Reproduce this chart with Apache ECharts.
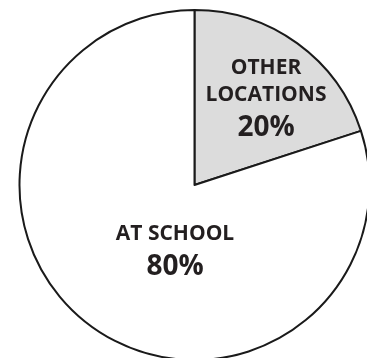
<!DOCTYPE html>
<html>
<head>
<meta charset="utf-8">
<script src="https://cdn.jsdelivr.net/npm/echarts@6/dist/echarts.min.js"></script>
<style>
html,body{margin:0;padding:0;background:#fff;}
#chart{width:367px;height:358px;}
</style>
</head>
<body>
<div id="chart"></div>
<script>
var categories = ['OTHER\nLOCATIONS', 'AT SCHOOL'];
var values = [20, 80];
var sliceColors = ['#dcdcdc', '#ffffff'];
var labelPos = [[266, 101.5], [175, 253.5]];

var chart = echarts.init(document.getElementById('chart'), null, {renderer: 'canvas'});
chart.setOption({
  animation: false,
  backgroundColor: '#ffffff',
  series: [{
    type: 'pie',
    center: [194.5, 185],
    radius: [0, 175],
    startAngle: 90,
    clockwise: true,
    silent: true,
    emphasis: {disabled: true},
    itemStyle: {borderColor: '#1a1a1a', borderWidth: 2},
    label: {
      show: true,
      position: 'inside',
      fontFamily: 'Open Sans',
      fontWeight: 'bold',
      color: '#231f20',
      formatter: function (p) {
        return p.name.split('\n').map(function (s) { return '{n|' + s + '}'; }).join('\n') + '\n{p|' + p.value + '%}';
      },
      rich: {
        n: {fontFamily: 'Open Sans', fontWeight: 'bold', fontSize: 21, lineHeight: 27, color: '#231f20', align: 'center'},
        p: {fontFamily: 'Open Sans', fontWeight: 'bold', fontSize: 28, lineHeight: 39, color: '#231f20', align: 'center'}
      }
    },
    labelLine: {show: false},
    labelLayout: function (params) {
      var pos = labelPos[params.dataIndex];
      return {x: pos[0], y: pos[1], align: 'center', verticalAlign: 'middle'};
    },
    data: categories.map(function (c, i) {
      return {name: c, value: values[i], itemStyle: {color: sliceColors[i]}};
    })
  }]
});
</script>
</body>
</html>
